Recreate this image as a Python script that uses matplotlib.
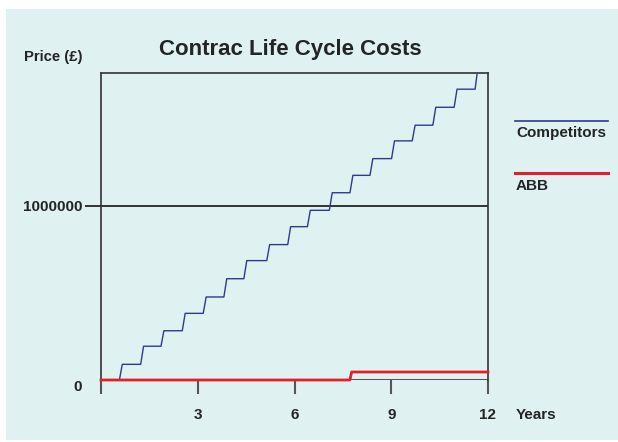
import matplotlib
matplotlib.use("Agg")
import matplotlib.pyplot as plt
from matplotlib.lines import Line2D
from matplotlib.patches import Rectangle

plt.rcParams['font.family'] = ['Liberation Sans', 'DejaVu Sans']
plt.rcParams['font.weight'] = 'bold'

# ---- data (years, price in £) ----
comp_rise_years = [0.57, 1.23, 1.86, 2.52, 3.17, 3.81, 4.43, 5.14, 5.79, 6.40,
                   7.08, 7.72, 8.34, 9.01, 9.65, 10.29, 10.95, 11.60]
comp_levels = [0, 90000, 194000, 283000, 383000, 477000, 582000, 686000, 778000,
               881000, 975000, 1076000, 1176000, 1272000, 1374000, 1464000,
               1567000, 1671000, 1800000]
abb_rise_years = [7.72]
abb_levels = [0, 46000]
rise_duration = 0.09
x_end = 12

x_ticks = [0, 3, 6, 9, 12]
x_tick_labels = ['', '3', '6', '9', '12']
y_ticks = [0, 1000000]
y_tick_labels = ['0', '1000000']


def step_path(rises, levels, dur, end):
    xs, ys = [0], [levels[0]]
    for i, t in enumerate(rises):
        xs += [t, t + dur]
        ys += [levels[i], levels[i + 1]]
    xs.append(end)
    ys.append(levels[-1])
    return xs, ys


BG = '#dff1f1'
DARK = '#242424'
BLUE = '#2e3a8f'
RED = '#e3202a'

fig = plt.figure(figsize=(6.18, 4.42), dpi=100)
fig.patch.set_facecolor('white')
fig.add_artist(Rectangle((6 / 618, 2 / 442), 612 / 618, 431 / 442,
                         transform=fig.transFigure, facecolor=BG,
                         edgecolor='none', zorder=-10))

ax = fig.add_axes([101 / 618, 62 / 442, 387 / 618, 307 / 442])
ax.set_facecolor('none')
ax.set_xlim(0, 12)
ax.set_ylim(0, 1764000)

cx, cy = step_path(comp_rise_years, comp_levels, rise_duration, x_end)
ax.plot(cx, cy, color=BLUE, lw=1.0, zorder=3)
ax.axhline(1000000, color=DARK, lw=1.3, zorder=2)
ax.axhline(0, color='#444444', lw=1.3, zorder=2)
ax_, ay_ = step_path(abb_rise_years, abb_levels, 0.05, x_end)
ax.plot(ax_, ay_, color=RED, lw=2.0, zorder=4, clip_on=False)

for s in ['left', 'right', 'top']:
    ax.spines[s].set_color('#333333')
    ax.spines[s].set_linewidth(1.2)
ax.spines['bottom'].set_visible(False)

ax.set_xticks(x_ticks)
ax.set_xticklabels(x_tick_labels)
ax.tick_params(axis='x', direction='out', length=10, width=1.5, color='#555555',
               pad=10, labelsize=11, labelcolor=DARK)
ax.set_yticks(y_ticks)
ax.set_yticklabels(y_tick_labels)
ax.tick_params(axis='y', direction='out', length=11.5, width=1.3, color=DARK,
               pad=2, labelsize=11, labelcolor=DARK)
ax.yaxis.get_major_ticks()[0].tick1line.set_visible(False)
ax.yaxis.get_major_ticks()[0].label1.set_va('top')
ax.yaxis.get_major_ticks()[0].label1.set_y(0)

ax.set_title('Contrac Life Cycle Costs', fontsize=16, fontweight='bold',
             color=DARK, pad=0, x=0.49, y=1.0 + 18 / 307)

fig.text(24 / 618, 1 - 57 / 442, 'Price (£)', fontsize=10.7, fontweight='bold',
         color=DARK, va='center', ha='left')
fig.text(516 / 618, 1 - 415 / 442, 'Years', fontsize=11, fontweight='bold',
         color=DARK, va='center', ha='left')

# legend
fig.add_artist(Line2D([515 / 618, 608 / 618], [1 - 121 / 442] * 2,
                      transform=fig.transFigure, color=BLUE, lw=1.2))
fig.text(516 / 618, 1 - 133 / 442, 'Competitors', fontsize=11, fontweight='bold',
         color=DARK, va='center', ha='left')
fig.add_artist(Line2D([515 / 618, 608 / 618], [1 - 173 / 442] * 2,
                      transform=fig.transFigure, color=RED, lw=2.2))
fig.text(516 / 618, 1 - 186 / 442, 'ABB', fontsize=11, fontweight='bold',
         color=DARK, va='center', ha='left')

fig.savefig('out.png', dpi=100, facecolor=fig.get_facecolor())
